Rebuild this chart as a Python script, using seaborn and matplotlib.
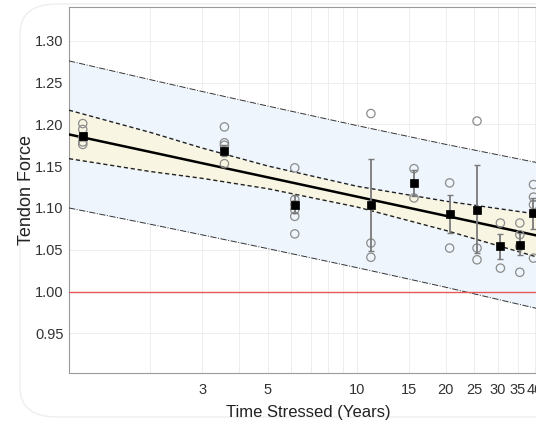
import numpy as np
import pandas as pd
import seaborn as sns
import matplotlib.pyplot as plt
from matplotlib.patches import FancyBboxPatch

# individual measurements (open circles)
circle_x = [1.18] * 5 + [3.56] * 4 + [6.16] * 6 + [11.15] * 3 + [15.6] * 2 + \
           [20.6] * 2 + [25.5] * 3 + [30.6] * 2 + [35.6] * 4 + [39.6] * 4
circle_y = [1.201, 1.194, 1.185, 1.179, 1.176,
            1.197, 1.178, 1.175, 1.153,
            1.148, 1.110, 1.104, 1.098, 1.090, 1.069,
            1.213, 1.058, 1.041,
            1.147, 1.112,
            1.130, 1.052,
            1.204, 1.052, 1.038,
            1.082, 1.028,
            1.082, 1.068, 1.054, 1.023,
            1.128, 1.113, 1.104, 1.040]

# group means (black squares) with error bar limits
mean_x = [1.18, 3.56, 6.16, 11.15, 15.6, 20.6, 25.5, 30.6, 35.6, 39.6]
mean_y = [1.186, 1.168, 1.104, 1.1035, 1.130, 1.093, 1.098, 1.054, 1.056, 1.094]
err_lo = [1.182, 1.162, 1.094, 1.049, 1.114, 1.070, 1.046, 1.039, 1.044, 1.075]
err_hi = [1.190, 1.175, 1.115, 1.159, 1.146, 1.115, 1.151, 1.069, 1.070, 1.112]

# fitted line and bands
fit_x = [1.06, 2, 3, 5, 10, 20, 44]
fit_y = [1.188, 1.167, 1.1535, 1.1366, 1.1136, 1.0906, 1.0644]
ci_hi = [1.217, 1.1904, 1.1716, 1.1502, 1.126, 1.1081, 1.091]
ci_lo = [1.159, 1.1436, 1.1354, 1.123, 1.1012, 1.0731, 1.0378]
pi_hi = [1.276, 1.2535, 1.2393, 1.2219, 1.1986, 1.1761, 1.1519]
pi_lo = [1.100, 1.0805, 1.0677, 1.0513, 1.0286, 1.0051, 0.9769]

tick_vals = [2, 3, 4, 5, 6, 7, 8, 9, 10, 15, 20, 25, 30, 35, 40]
tick_text = ['', '3', '', '5', '', '', '', '', '10', '15', '20', '25', '30', '35', '40']
y_ticks = [0.95, 1.00, 1.05, 1.10, 1.15, 1.20, 1.25, 1.30]

sns.set_style("white")
plt.rcParams['font.family'] = ['Liberation Sans', 'DejaVu Sans']

fig = plt.figure(figsize=(5.36, 4.21), dpi=100)
bg = FancyBboxPatch((20 / 536, 4 / 421), 560 / 536, 413 / 421,
                    boxstyle="round,pad=0,rounding_size=0.07",
                    transform=fig.transFigure, facecolor='white',
                    edgecolor='#eeeeee', lw=1, zorder=-10)
fig.patches.append(bg)

ax = fig.add_axes([69 / 536, 48 / 421, 478 / 536, 366 / 421])
ax.set_zorder(1)
ax.set_xscale('log')

ax.fill_between(fit_x, pi_lo, pi_hi, color='#eef5fc', lw=0, zorder=1)
ax.fill_between(fit_x, ci_lo, ci_hi, color='#f8f6e3', lw=0, zorder=2)
ax.plot(fit_x, pi_hi, color='#333333', lw=0.7, ls='-.', zorder=3)
ax.plot(fit_x, pi_lo, color='#333333', lw=0.7, ls='-.', zorder=3)
ax.plot(fit_x, ci_hi, color='#222222', lw=1.0, ls=(0, (3, 2)), zorder=3)
ax.plot(fit_x, ci_lo, color='#222222', lw=1.0, ls=(0, (3, 2)), zorder=3)
ax.axhline(1.0, color='#e4585a', lw=1.0, zorder=3)

fit = pd.DataFrame({'x': fit_x, 'y': fit_y})
sns.lineplot(data=fit, x='x', y='y', ax=ax, color='black', lw=1.8, zorder=4)

pts = pd.DataFrame({'x': circle_x, 'y': circle_y})
sns.scatterplot(data=pts, x='x', y='y', ax=ax, marker='o', s=36,
                facecolor='none', edgecolor='#8c8c8c', linewidth=0.9, zorder=5)

means = pd.DataFrame({'x': mean_x, 'y': mean_y})
yerr = [np.array(mean_y) - np.array(err_lo), np.array(err_hi) - np.array(mean_y)]
ax.errorbar(mean_x, mean_y, yerr=yerr, fmt='none', ecolor='#7a7a7a',
            elinewidth=1.3, capsize=2.5, capthick=1.0, zorder=6)
sns.scatterplot(data=means, x='x', y='y', ax=ax, marker='s', s=36,
                color='black', edgecolor='black', linewidth=0.5, zorder=7)

ax.set_xlim(1.06, 44)
ax.set_ylim(0.9025, 1.3405)
ax.set_xticks(tick_vals)
ax.set_xticklabels(tick_text)
ax.minorticks_off()
ax.set_yticks(y_ticks)
ax.set_yticklabels([f'{v:.2f}' for v in y_ticks])
ax.tick_params(axis='both', direction='in', length=3, width=0.6,
               colors='#333333', labelsize=10.5)
ax.tick_params(axis='y', pad=4)
ax.tick_params(axis='x', pad=7)
ax.grid(True, color='#ebebeb', lw=0.6, zorder=0)
ax.set_axisbelow(True)
for s in ax.spines.values():
    s.set_color('#9a9a9a')
    s.set_linewidth(0.8)

ax.set_xlabel('Time Stressed (Years)', fontsize=12, color='#222222', labelpad=6)
ax.set_ylabel('Tendon Force', fontsize=13, color='#222222')
ax.yaxis.set_label_coords(-0.072, 0.5)

fig.savefig('out.png', dpi=100)
